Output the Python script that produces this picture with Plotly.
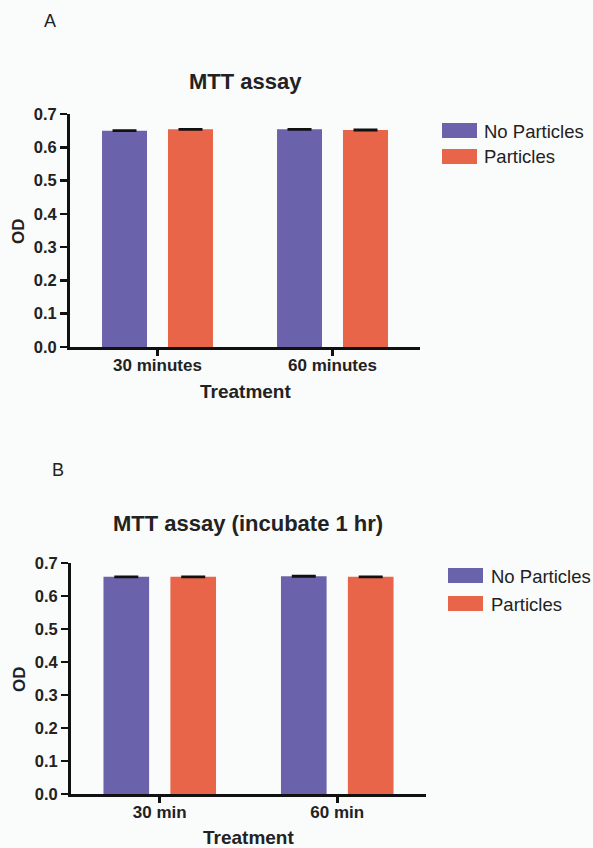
import plotly.graph_objects as go

W, H = 593, 848

# ---- data ----
series_names = ["No Particles", "Particles"]
categories_a = ["30 minutes", "60 minutes"]
categories_b = ["30 min", "60 min"]
values_a_no = [0.650, 0.654]
values_a_p = [0.654, 0.652]
errors_a_no = [0.001, 0.001]
errors_a_p = [0.001, 0.001]
values_b_no = [0.658, 0.660]
values_b_p = [0.658, 0.658]
errors_b_no = [0.001, 0.001]
errors_b_p = [0.001, 0.001]
y_ticks = [0.0, 0.1, 0.2, 0.3, 0.4, 0.5, 0.6, 0.7]
y_tick_labels = ["0.0", "0.1", "0.2", "0.3", "0.4", "0.5", "0.6", "0.7"]

# ---- style ----
colors = ["#6a63ab", "#e8654a"]
bg = "#fafbfb"
ink = "#222222"
font_fam = "Liberation Sans, Arial, sans-serif"


def px_x(p):
    return p / W


def px_y(p):
    return 1 - p / H


fig = go.Figure()

panels = [
    dict(xa="x", ya="y", cats=categories_a, vals=[values_a_no, values_a_p],
         errs=[errors_a_no, errors_a_p]),
    dict(xa="x2", ya="y2", cats=categories_b, vals=[values_b_no, values_b_p],
         errs=[errors_b_no, errors_b_p]),
]

for p in panels:
    for i, name in enumerate(series_names):
        fig.add_trace(go.Bar(
            x=p["cats"], y=p["vals"][i], name=name,
            marker=dict(color=colors[i], line=dict(width=0)),
            error_y=dict(type="data", array=p["errs"][i], visible=True,
                         color="#111111", thickness=2.2, width=12),
            xaxis=p["xa"], yaxis=p["ya"], showlegend=False,
            hoverinfo="skip",
        ))

axis_common_x = dict(
    type="category", range=[-0.5, 1.5], showline=True, linecolor="#111111",
    linewidth=3, ticks="outside", ticklen=6, tickwidth=3, tickcolor="#111111",
    showgrid=False, zeroline=False, automargin=False, ticklabelstandoff=-5,
    tickfont=dict(family=font_fam, size=17, color=ink, weight="bold"),
)
axis_common_y = dict(
    range=[0, 0.7], showline=True, linecolor="#111111", linewidth=3,
    ticks="outside", ticklen=7, tickwidth=2.5, tickcolor="#111111",
    showgrid=False, zeroline=False, tickvals=y_ticks, ticktext=y_tick_labels,
    automargin=False,
    tickfont=dict(family=font_fam, size=16.5, color=ink, weight="bold"),
)

fig.update_layout(
    width=W, height=H, autosize=False,
    margin=dict(l=0, r=0, t=0, b=0, autoexpand=False),
    paper_bgcolor=bg, plot_bgcolor=bg,
    barmode="group", bargap=0.246, bargroupgap=0.318,
    showlegend=False,
    xaxis=dict(domain=[px_x(70), px_x(420)], anchor="y", **axis_common_x),
    yaxis=dict(domain=[px_y(347), px_y(114)], anchor="x", **axis_common_y),
    xaxis2=dict(domain=[px_x(71), px_x(426)], anchor="y2", **axis_common_x),
    yaxis2=dict(domain=[px_y(794), px_y(563)], anchor="x2", **axis_common_y),
)

ann = []


def text(x, y, s, size, bold=True, xanchor="center", angle=0):
    ann.append(dict(
        x=px_x(x), y=px_y(y), xref="paper", yref="paper", text=s,
        showarrow=False, xanchor=xanchor, yanchor="middle", textangle=angle,
        font=dict(family=font_fam, size=size, color=ink,
                  weight="bold" if bold else "normal"),
    ))


# panel letters
text(50, 21, "A", 18, bold=False)
text(58, 470, "B", 18, bold=False)
# titles
text(245, 81, "MTT assay", 22)
text(248, 523, "MTT assay (incubate 1 hr)", 22)
# axis titles
text(245, 391, "Treatment", 19)
text(248, 837, "Treatment", 19)
text(19, 231, "OD", 17, angle=-90)
text(19, 679, "OD", 17, angle=-90)

# legends
shapes = []
legend_specs = [
    dict(x0=442, x1=477, tx=482, rows=[(123, 138), (149, 164)]),
    dict(x0=448, x1=483, tx=489, rows=[(568, 583), (596, 611)]),
]
for spec in legend_specs:
    for i, name in enumerate(series_names):
        y0, y1 = spec["rows"][i]
        shapes.append(dict(
            type="rect", xref="paper", yref="paper",
            x0=px_x(spec["x0"]), x1=px_x(spec["x1"]),
            y0=px_y(y1), y1=px_y(y0),
            fillcolor=colors[i], line=dict(width=0),
        ))
        text(spec["tx"], (y0 + y1) / 2 + 0.5, name, 18.5, bold=False,
             xanchor="left")

fig.update_layout(annotations=ann, shapes=shapes)

fig.write_html(
    "out.html",
    config={"displayModeBar": False, "staticPlot": True},
    post_script="document.body.style.margin='0';"
                "document.body.style.overflow='hidden';"
                "document.documentElement.style.overflow='hidden';",
)
